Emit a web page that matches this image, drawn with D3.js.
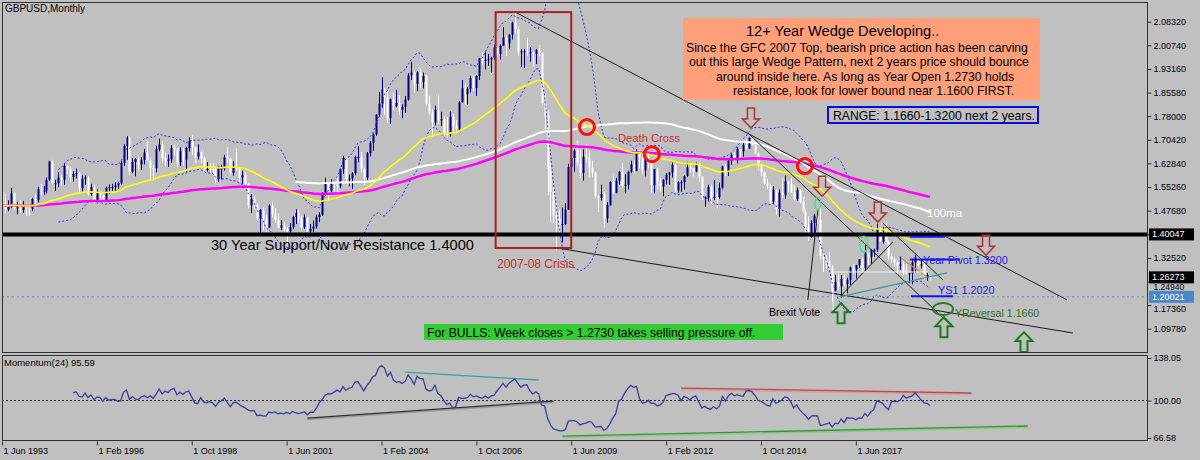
<!DOCTYPE html>
<html>
<head>
<meta charset="utf-8">
<script src="https://cdn.jsdelivr.net/npm/d3@7"></script>
<style>
body { margin: 0; background: #c0c0c0; }
text { font-family: "Liberation Sans", Arial, sans-serif; }
</style>
</head>
<body>
<svg id="chart" width="1200" height="460"></svg>
<script>
// GBPUSD monthly, Jun 1993 .. Jul 2019, prices x1000
var firstOpen = 1538;
var closes = [
1493,1480,1494,1532,1484,1488,1479,
1495,1485,1483,1514,1510,1545,1541,1541,1576,1634,1565,1565,
1583,1576,1621,1611,1585,1595,1597,1549,1580,1583,1530,1553,
1508,1532,1527,1507,1550,1552,1553,1558,1565,1630,1684,1712,
1602,1633,1642,1625,1640,1663,1637,1614,1613,1674,1689,1645,
1637,1641,1678,1671,1632,1668,1640,1678,1700,1681,1650,1664,
1645,1610,1611,1610,1608,1578,1612,1612,1648,1645,1597,1616,
1614,1583,1592,1563,1494,1514,1495,1452,1479,1452,1422,1493,
1465,1447,1422,1430,1417,1410,1424,1456,1469,1454,1423,1455,
1410,1419,1426,1456,1464,1530,1566,1541,1569,1562,1555,1610,
1646,1578,1580,1597,1649,1650,1611,1582,1661,1694,1722,1785,
1820,1866,1840,1774,1834,1812,1822,1801,1810,1833,1911,1920,
1884,1921,1889,1909,1820,1791,1760,1800,1766,1770,1726,1722,
1778,1747,1738,1824,1870,1850,1868,1902,1870,1909,1966,1958,
1961,1962,1967,2000,1980,2006,2033,2013,2042,2080,2060,1985,
1988,1988,1985,1985,1980,1993,1983,1822,1781,1610,1537,1462,
1450,1431,1434,1480,1616,1646,1670,1629,1598,1650,1646,1615,
1599,1523,1518,1530,1452,1495,1569,1533,1573,1602,1557,1560,
1602,1625,1604,1669,1646,1606,1642,1631,1558,1610,1568,1554,
1576,1592,1599,1624,1542,1568,1568,1588,1616,1613,1602,1625,
1586,1519,1519,1553,1520,1521,1520,1550,1619,1604,1637,1656,
1643,1675,1667,1688,1676,1711,1688,1660,1621,1600,1564,1558,
1506,1544,1483,1535,1528,1571,1562,1535,1514,1543,1505,1474,
1425,1392,1437,1461,1448,1331,1323,1313,1298,1220,1248,1234,
1258,1241,1255,1295,1288,1302,1321,1293,1340,1329,1351,1351,
1419,1377,1403,1377,1330,1320,1312,1300,1304,1277,1275,1275,
1311,1327,1303,1304,1262,1270,1263
];
var highs = [
1545,1530,1510,1550,1535,1505,1510,
1508,1500,1502,1518,1530,1553,1562,1556,1583,1637,1640,1576,
1600,1591,1630,1623,1620,1603,1612,1600,1592,1590,1588,1563,
1560,1545,1537,1530,1554,1561,1563,1568,1570,1637,1690,1716,
1715,1645,1646,1647,1649,1675,1700,1645,1623,1685,1708,1700,
1663,1657,1687,1689,1678,1680,1680,1682,1712,1718,1680,1690,
1670,1650,1633,1630,1630,1618,1620,1624,1656,1681,1647,1635,
1676,1618,1605,1600,1563,1530,1522,1500,1481,1488,1462,1497,
1504,1485,1468,1447,1440,1425,1437,1460,1481,1480,1461,1465,
1456,1434,1445,1464,1472,1536,1583,1568,1578,1573,1590,1612,
1653,1650,1593,1600,1653,1684,1665,1618,1665,1700,1725,1787,
1858,1905,1870,1861,1836,1855,1865,1847,1818,1845,1918,1955,
1926,1925,1935,1920,1912,1846,1802,1814,1850,1794,1780,1777,
1795,1787,1767,1829,1896,1885,1874,1910,1910,1912,1967,1985,
1985,1980,1971,2010,2000,2010,2066,2040,2042,2083,2116,2068,
1995,1996,2031,2002,1985,1996,2008,1984,1853,1798,1631,1552,
1502,1480,1487,1501,1627,1666,1674,1701,1674,1674,1691,1670,
1637,1602,1526,1560,1538,1505,1571,1596,1582,1603,1629,1594,
1605,1637,1638,1674,1670,1650,1650,1658,1638,1611,1616,1580,
1578,1598,1602,1631,1628,1572,1574,1590,1631,1622,1612,1631,
1630,1587,1524,1560,1560,1575,1535,1567,1621,1626,1641,1660,
1672,1680,1674,1700,1704,1711,1718,1693,1663,1628,1604,1579,
1560,1556,1545,1545,1581,1590,1568,1582,1560,1551,1546,1521,
1481,1459,1446,1467,1477,1502,1348,1334,1344,1301,1271,1275,
1270,1271,1262,1297,1305,1303,1322,1327,1366,1339,1353,1355,
1435,1424,1424,1438,1381,1339,1327,1317,1330,1318,1318,1279,
1321,1334,1338,1320,1318,1278,1269
];
var lows = [
1480,1470,1475,1485,1480,1465,1470,
1470,1460,1460,1475,1493,1503,1527,1527,1532,1573,1560,1540,
1552,1557,1560,1595,1570,1570,1580,1535,1537,1560,1525,1525,
1500,1500,1510,1500,1506,1532,1540,1537,1547,1560,1621,1640,
1590,1597,1587,1605,1607,1625,1635,1573,1573,1600,1667,1630,
1620,1617,1630,1655,1617,1620,1620,1597,1666,1655,1630,1641,
1629,1600,1602,1600,1595,1564,1569,1577,1605,1630,1590,1589,
1605,1570,1563,1560,1484,1469,1480,1445,1405,1414,1410,1421,
1455,1438,1420,1414,1410,1368,1397,1417,1434,1437,1415,1418,
1408,1404,1408,1419,1440,1460,1525,1512,1536,1539,1535,1549,
1595,1570,1555,1546,1590,1632,1599,1560,1575,1650,1669,1717,
1777,1806,1785,1758,1755,1799,1808,1785,1773,1790,1830,1896,
1855,1860,1871,1869,1815,1785,1721,1750,1755,1748,1713,1712,
1715,1725,1727,1731,1825,1818,1816,1856,1860,1845,1896,1943,
1930,1941,1919,1961,1970,1962,2005,1973,1995,2026,2045,1974,
1937,1935,1974,1955,1939,1947,1970,1816,1739,1526,1441,1436,
1350,1404,1374,1430,1480,1593,1601,1620,1581,1573,1632,1586,
1583,1518,1473,1509,1423,1438,1491,1530,1533,1560,1551,1532,
1545,1597,1598,1603,1613,1594,1587,1613,1534,1532,1545,1538,
1523,1561,1560,1583,1536,1533,1537,1544,1584,1599,1587,1600,
1570,1511,1489,1506,1500,1511,1482,1514,1545,1588,1588,1624,
1632,1628,1644,1650,1672,1676,1685,1659,1605,1587,1559,1546,
1495,1498,1463,1458,1517,1515,1535,1533,1506,1509,1500,1472,
1405,1380,1390,1405,1435,1320,1280,1291,1284,1184,1218,1221,
1198,1234,1211,1237,1280,1259,1293,1277,1285,1303,1306,1328,
1345,1376,1371,1375,1320,1310,1296,1266,1287,1270,1272,1249,
1240,1277,1296,1291,1256,1251,1253
];

var dateTicks = [0, 32, 64, 96, 128, 160, 192, 224, 256, 288];
var dateLabels = ["1 Jun 1993", "1 Feb 1996", "1 Oct 1998", "1 Jun 2001", "1 Feb 2004",
                  "1 Oct 2006", "1 Jun 2009", "1 Feb 2012", "1 Oct 2014", "1 Jun 2017"];
var priceTicks = [2.0832, 2.0074, 1.9316, 1.8558, 1.7800, 1.7042, 1.6284, 1.5526,
                  1.4768, 1.4010, 1.3252, 1.2494, 1.1736, 1.0978];
var momTicks = [138.05, 100.00, 66.58];

var supportLevel = 1.40047;
var bidPrice = 1.26273;
var dottedLevel = 1.20021;
var pivotLevels = [1.3930, 1.3200, 1.2020];  // year R1, pivot, S1
var reversalLevel = 1.1660;

// chart objects, in [bar, price]
var trendLines = [
  [[173, 2.1143], [359.2, 1.1906]],
  [[251.6, 1.7260], [320.7, 1.1034]],
  [[297.1, 1.4372], [317.4, 1.2543]],
  [[187.2, 1.3570], [361.2, 1.0842]],
  [[282.6, 1.2000], [300.5, 1.3765]],
  [[271.8, 1.1904], [275.2, 1.4792]]
];
var tealLine = [[282.6, 1.2000], [318.7, 1.2770]];
var orangeLine = [[303.2, 1.3250], [312.0, 1.2640]];
var crossCircles = [[197.3, 1.745], [219.2, 1.658], [270.8, 1.620]];
var downArrows = [[252.6, 1.742], [276.6, 1.523], [295.4, 1.440], [331.9, 1.334]];
var upArrows = [[283, 1.180], [317.7, 1.135], [344.7, 1.087]];
var crisisBox = [[166.5, 2.114], [192, 1.357]];
var momLines = [
  {pts: [[136, 125.5], [181, 118.4]], c: "#3aa0a0", s: null},
  {pts: [[103, 84.4], [186, 99.6]], c: "#303030", s: "#9a9a9a"},
  {pts: [[229, 111.2], [327, 106.8]], c: "#c04848", s: "#d8a0a0"},
  {pts: [[189, 68.3], [346, 77.3]], c: "#2e9a2e", s: "#90c890"}
];

var P = closes.map(function(v){ return v / 1000; });
var H = highs.map(function(v){ return v / 1000; });
var L = lows.map(function(v){ return v / 1000; });

var svg = d3.select("#chart");
var left = 2, right = 1147, mainTop = 3, mainBottom = 353, subTop = 356, subBottom = 441;

var x = d3.scaleLinear().domain([0, 313]).range([2, 930]);
var y = d3.scaleLinear().domain([1.0978, 2.0832]).range([328.75, 21.7]);
var ym = d3.scaleLinear().domain([66.58, 138.05]).range([438, 358]);

var defs = svg.append("defs");
defs.append("clipPath").attr("id", "clipMain").append("rect")
  .attr("x", left + 1).attr("y", mainTop).attr("width", right - left - 1).attr("height", mainBottom - mainTop);
defs.append("clipPath").attr("id", "clipSub").append("rect")
  .attr("x", left + 1).attr("y", subTop).attr("width", right - left - 1).attr("height", subBottom - subTop);

svg.append("rect").attr("width", 1200).attr("height", 460).attr("fill", "#c0c0c0");

var main = svg.append("g").attr("clip-path", "url(#clipMain)");

// indicators
function ema(period) {
  var k = 2 / (period + 1), prev = P[0];
  return P.map(function(c, i) { prev = i ? prev + k * (c - prev) : c; return prev; });
}
function sma(period) {
  return P.map(function(c, i) { return i < period - 1 ? null : d3.mean(P.slice(i - period + 1, i + 1)); });
}
var bbUp = [], bbDn = [];
P.forEach(function(c, i) {
  if (i < 19) { bbUp.push(null); bbDn.push(null); return; }
  var s = P.slice(i - 19, i + 1), m = d3.mean(s);
  var sd = Math.sqrt(d3.mean(s, function(v) { return (v - m) * (v - m); }));
  bbUp.push(m + 2 * sd); bbDn.push(m - 2 * sd);
});
var mom = P.map(function(c, i) { return i < 24 ? null : c / P[i - 24] * 100; });

var line = d3.line()
  .defined(function(d) { return d != null; })
  .x(function(d, i) { return x(i); })
  .y(function(d) { return y(d); });

// horizontal levels behind candles
main.append("line").attr("x1", left).attr("x2", right)
  .attr("y1", y(dottedLevel)).attr("y2", y(dottedLevel))
  .attr("stroke", "#5b8cc4").attr("stroke-dasharray", "2,3");

// candles
var bars = P.map(function(c, i) {
  return {i: i, o: i ? P[i - 1] : firstOpen / 1000, h: H[i], l: L[i], c: c};
});
var candle = main.selectAll(".candle").data(bars).enter().append("g").attr("class", "candle");
candle.append("line")
  .attr("x1", function(d) { return Math.round(x(d.i)) + 0.5; })
  .attr("x2", function(d) { return Math.round(x(d.i)) + 0.5; })
  .attr("y1", function(d) { return y(d.h); })
  .attr("y2", function(d) { return y(d.l); })
  .attr("stroke", function(d) { return d.c >= d.o ? "#000080" : "#ffffff"; });
candle.append("rect")
  .attr("x", function(d) { return Math.round(x(d.i)) - 0.5; })
  .attr("width", 2)
  .attr("y", function(d) { return y(Math.max(d.o, d.c)); })
  .attr("height", function(d) { return Math.max(1, Math.abs(y(d.o) - y(d.c))); })
  .attr("fill", function(d) { return d.c >= d.o ? "#000080" : "#ffffff"; });

// bollinger bands
[bbUp, bbDn].forEach(function(b) {
  main.append("path").attr("d", line(b)).attr("fill", "none")
    .attr("stroke", "#2a2aff").attr("stroke-width", 1).attr("stroke-dasharray", "2,2");
});

// moving averages
main.append("path").attr("d", line(ema(200))).attr("fill", "none").attr("stroke", "#ff00ff").attr("stroke-width", 2.5);
main.append("path").attr("d", line(sma(100))).attr("fill", "none").attr("stroke", "#ffffff").attr("stroke-width", 2);
main.append("path").attr("d", line(ema(50))).attr("fill", "none").attr("stroke", "#ffff00").attr("stroke-width", 1.6);

// support line
main.append("line").attr("x1", left).attr("x2", right)
  .attr("y1", y(supportLevel)).attr("y2", y(supportLevel))
  .attr("stroke", "#000").attr("stroke-width", 4);

// objects
var seg = d3.line().x(function(d) { return x(d[0]); }).y(function(d) { return y(d[1]); });
trendLines.forEach(function(t) {
  main.append("path").attr("d", seg(t)).attr("stroke", "#1a1a1a").attr("stroke-width", 1).attr("fill", "none");
});
main.append("path").attr("d", seg(tealLine)).attr("stroke", "#3a9a9a").attr("stroke-width", 1.2);
main.append("path").attr("d", seg(orangeLine)).attr("stroke", "#d88040").attr("stroke-width", 1.2);

// white range outline
main.append("path")
  .attr("d", seg([[280.3, 1.1484], [280.3, 1.2799], [312.3, 1.2799]]))
  .attr("fill", "none").attr("stroke", "#f0f0f0").attr("stroke-width", 1);

// pivot lines
var pivotSpans = [[306.2, 318.0], [306.2, 323.1], [306.6, 320.7]];
pivotLevels.forEach(function(p, i) {
  main.append("line").attr("x1", x(pivotSpans[i][0])).attr("x2", x(pivotSpans[i][1]))
    .attr("y1", y(p)).attr("y2", y(p)).attr("stroke", "#1414f0").attr("stroke-width", 2);
});

main.append("rect")
  .attr("x", x(crisisBox[0][0])).attr("y", y(crisisBox[0][1]))
  .attr("width", x(crisisBox[1][0]) - x(crisisBox[0][0]))
  .attr("height", y(crisisBox[1][1]) - y(crisisBox[0][1]))
  .attr("fill", "none").attr("stroke", "#a82020").attr("stroke-width", 2);

crossCircles.forEach(function(c) {
  main.append("circle").attr("cx", x(c[0])).attr("cy", y(c[1])).attr("r", 7.5)
    .attr("fill", "none").attr("stroke", "#ff1010").attr("stroke-width", 3);
});

[[275.2, 1.4999, 3, 6], [290.7, 1.3692, 4, 8]].forEach(function(e) {
  main.append("ellipse").attr("cx", x(e[0])).attr("cy", y(e[1])).attr("rx", e[2]).attr("ry", e[3])
    .attr("fill", "none").attr("stroke", "#40e080").attr("stroke-width", 1.5);
});
main.append("ellipse").attr("cx", x(317.4)).attr("cy", y(reversalLevel) + 1.5).attr("rx", 10).attr("ry", 6)
  .attr("fill", "none").attr("stroke", "#2a7a2a").attr("stroke-width", 2);

downArrows.forEach(function(a) {
  var px = x(a[0]), py = y(a[1]);
  main.append("path")
    .attr("d", d3.line()([[px - 3.5, py - 20], [px + 3.5, py - 20], [px + 3.5, py - 9], [px + 8.5, py - 9],
                          [px, py], [px - 8.5, py - 9], [px - 3.5, py - 9]]) + "Z")
    .attr("fill", "none").attr("stroke", "#b03030").attr("stroke-width", 1.5);
});
upArrows.forEach(function(a) {
  var px = x(a[0]), py = y(a[1]);
  main.append("path")
    .attr("d", d3.line()([[px - 3.5, py + 20], [px + 3.5, py + 20], [px + 3.5, py + 9], [px + 8.5, py + 9],
                          [px, py], [px - 8.5, py + 9], [px - 3.5, py + 9]]) + "Z")
    .attr("fill", "none").attr("stroke", "#1e7a1e").attr("stroke-width", 2);
});

// texts
function label(tx, ty, str, size, color) {
  return svg.append("text").attr("x", tx).attr("y", ty).attr("font-size", size).attr("fill", color).text(str);
}
label(5, 12, "GBPUSD,Monthly", "10px", "#000");
label(211, 250, "30 Year Support/Now Resistance 1.4000", "14.6px", "#000");
label(497, 268, "2007-08 Crisis", "12px", "#c03030");
label(618, 142, "Death Cross", "11.2px", "#c83030");
label(927, 217, "100ma", "11.5px", "#ffffff");
label(769, 316, "Brexit Vote", "10.6px", "#000");
label(923, 264, "Year Pivot 1.3200", "10.8px", "#2020e0");
label(938, 294, "YS1 1.2020", "10.8px", "#2020e0");
label(955, 317, "YReversal 1.1660", "10.6px", "#2e6e2e");

// info box
svg.append("rect").attr("x", 683).attr("y", 18).attr("width", 357).attr("height", 82).attr("fill", "#ffa07a");
label(746, 36, "12+ Year Wedge Developing..", "14.6px", "#000");
label(686, 52, "Since the GFC 2007 Top, bearish price action has been carving", "12.2px", "#000");
label(689, 66, "out this large Wedge Pattern, next 2 years price should bounce", "12.2px", "#000");
label(716, 81, "around inside here. As long as Year Open 1.2730 holds", "12.2px", "#000");
label(733, 95, "resistance, look for lower bound near 1.1600 FIRST.", "12.2px", "#000");

svg.append("rect").attr("x", 828).attr("y", 107).attr("width", 210).attr("height", 16)
  .attr("fill", "#c0c0c0").attr("stroke", "#0a0ad0").attr("stroke-width", 2);
label(833, 119.5, "RANGE: 1.1660-1.3200 next 2 years.", "12.2px", "#000");

svg.append("rect").attr("x", 424).attr("y", 324).attr("width", 359).attr("height", 16).attr("fill", "#32cd32");
label(427, 336.5, "For BULLS: Week closes > 1.2730 takes selling pressure off.", "12.2px", "#000");

// momentum pane
var sub = svg.append("g").attr("clip-path", "url(#clipSub)");
sub.append("line").attr("x1", left).attr("x2", right).attr("y1", ym(100)).attr("y2", ym(100))
  .attr("stroke", "#202020").attr("stroke-dasharray", "2,2");
var mseg = d3.line().x(function(d) { return x(d[0]); }).y(function(d) { return ym(d[1]); });
momLines.forEach(function(m) {
  if (m.s) {
    sub.append("path").attr("d", mseg(m.pts)).attr("transform", "translate(0,1.5)")
      .attr("stroke", m.s).attr("stroke-width", 1.5);
  }
  sub.append("path").attr("d", mseg(m.pts)).attr("stroke", m.c).attr("stroke-width", 1.3);
});
sub.append("path")
  .attr("d", d3.line().defined(function(d) { return d != null; })
    .x(function(d, i) { return x(i); }).y(function(d) { return ym(d); })(mom))
  .attr("fill", "none").attr("stroke", "#3c3ca0").attr("stroke-width", 1.3);
label(4, 366, "Momentum(24) 95.59", "9.5px", "#000");

// frames
svg.append("rect").attr("x", left + 0.5).attr("y", mainTop - 0.5).attr("width", right - left).attr("height", mainBottom - mainTop)
  .attr("fill", "none").attr("stroke", "#303030");
svg.append("rect").attr("x", left + 0.5).attr("y", subTop - 0.5).attr("width", right - left).attr("height", subBottom - subTop)
  .attr("fill", "none").attr("stroke", "#303030");

// axes
var yAxis = svg.append("g").attr("transform", "translate(" + (right + 0.5) + ",0)")
  .call(d3.axisRight(y).tickValues(priceTicks).tickFormat(d3.format(".5f")).tickSize(4).tickPadding(2));
var mAxis = svg.append("g").attr("transform", "translate(" + (right + 0.5) + ",0)")
  .call(d3.axisRight(ym).tickValues(momTicks).tickFormat(d3.format(".2f")).tickSize(4).tickPadding(2));
var xAxis = svg.append("g").attr("transform", "translate(0," + (subBottom + 0.5) + ")")
  .call(d3.axisBottom(x).tickValues(dateTicks).tickFormat(function(d, i) { return dateLabels[i]; }).tickSize(4).tickPadding(2));
xAxis.selectAll("text").attr("text-anchor", "start").attr("x", 1);
[yAxis, mAxis, xAxis].forEach(function(g) {
  g.select(".domain").remove();
  g.selectAll("line").attr("stroke", "#303030");
  g.selectAll("text").attr("font-family", "Liberation Sans, Arial, sans-serif").attr("font-size", "9px").attr("fill", "#000");
});
// labels crowded by the price boxes: the hidden one goes, the others step aside
yAxis.selectAll(".tick").filter(function(d) { return d === 1.4010; }).select("text").remove();
yAxis.selectAll(".tick").filter(function(d) { return d === 1.2494; }).select("text")
  .attr("font-size", "8.5px").attr("y", 5.3);
yAxis.selectAll(".tick").filter(function(d) { return d === 1.1736; }).select("text").attr("y", 3);

// price boxes on the axis
[[supportLevel, "#000000", 3], [bidPrice, "#000000", 2.5], [dottedLevel, "#4a86c8", 3.5]].forEach(function(b) {
  svg.append("rect").attr("x", right + 2).attr("y", y(b[0]) - 6).attr("width", 45).attr("height", 12).attr("fill", b[1]);
  svg.append("text").attr("x", right + 5).attr("y", y(b[0]) + b[2]).attr("font-size", "9px").attr("fill", "#fff")
    .text(d3.format(".5f")(b[0]));
});
</script>
</body>
</html>
